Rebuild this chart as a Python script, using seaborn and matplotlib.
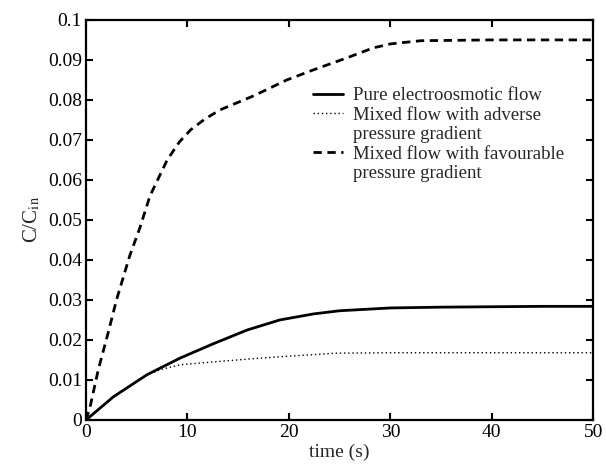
import matplotlib
matplotlib.use("Agg")
import matplotlib.pyplot as plt
import seaborn as sns
import numpy as np
from matplotlib.lines import Line2D
from matplotlib.ticker import FormatStrFormatter

# Curves
t_eo = [0, 2.7, 6, 9.3, 12.5, 15.9, 19.1, 22.4, 25, 30, 35, 40, 45, 50]
c_eo = [0, 0.0058, 0.0113, 0.0155, 0.019, 0.0225, 0.025, 0.0265, 0.0273,
        0.0280, 0.0282, 0.0283, 0.0284, 0.0284]

t_adv = [0, 2.7, 6, 7.5, 9.3, 12.5, 15.9, 19.1, 24.7, 30, 40, 50]
c_adv = [0, 0.0058, 0.0113, 0.0127, 0.0138, 0.0145, 0.0152, 0.0158,
         0.0167, 0.0168, 0.0168, 0.0168]

t_fav = [0, 0.4, 1.2, 2.2, 3.0, 4.3, 5.3, 6.3, 7.3, 8.0, 9.2, 10.3, 11.7,
         13.2, 16.5, 19.8, 22.4, 25.7, 28.3, 30, 33, 40, 50]
c_fav = [0, 0.0033, 0.0125, 0.022, 0.030, 0.041, 0.048, 0.056, 0.0613,
         0.065, 0.0695, 0.0725, 0.0752, 0.0775, 0.081, 0.085, 0.0875, 0.0905,
         0.093, 0.094, 0.0948, 0.095, 0.095]

x_ticks = [0, 10, 20, 30, 40, 50]
y_ticks = [0, 0.01, 0.02, 0.03, 0.04, 0.05, 0.06, 0.07, 0.08, 0.09, 0.1]

sns.set_style("ticks")
plt.rcParams['font.family'] = ['Liberation Serif', 'DejaVu Serif']
plt.rcParams['mathtext.fontset'] = 'stix'

fig = plt.figure(figsize=(6.06, 4.74), dpi=100)
ax = fig.add_axes([0.142, 0.114, 0.837, 0.844])

sns.lineplot(x=t_eo, y=c_eo, ax=ax, color='black', linewidth=2.0,
             linestyle='-', estimator=None, sort=False)
sns.lineplot(x=t_adv, y=c_adv, ax=ax, color='black', linewidth=1.0,
             linestyle=(0, (1, 2)), estimator=None, sort=False)
sns.lineplot(x=t_fav, y=c_fav, ax=ax, color='black', linewidth=2.0,
             linestyle=(0, (3, 2)), estimator=None, sort=False)

ax.set_xlim(0, 50)
ax.set_ylim(0, 0.1)
ax.set_xticks(x_ticks)
ax.set_yticks(y_ticks)
ax.yaxis.set_major_formatter(FormatStrFormatter('%g'))
ax.tick_params(direction='in', length=5, width=1.5, top=True, right=True,
               labelsize=14, colors='black', pad=3)
for s in ax.spines.values():
    s.set_linewidth(1.6)
    s.set_color('black')

ax.set_xlabel('time (s)', fontsize=14, labelpad=2)
ax.set_ylabel(r'C/C$_{\rm in}$', fontsize=15, labelpad=4)

blank = Line2D([], [], linestyle='none')
handles = [
    Line2D([], [], color='black', linewidth=2.0, linestyle='-'),
    Line2D([], [], color='black', linewidth=1.0, linestyle=(0, (1, 2))),
    blank,
    Line2D([], [], color='black', linewidth=2.0, linestyle=(0, (3, 2))),
    blank,
]
labels = ['Pure electroosmotic flow',
          'Mixed flow with adverse',
          'pressure gradient',
          'Mixed flow with favourable',
          'pressure gradient']
ax.legend(handles, labels, loc='upper left', bbox_to_anchor=(0.428, 0.855),
          frameon=False, fontsize=13.5, handlelength=1.6, handletextpad=0.55,
          labelspacing=0.12, borderpad=0)

fig.savefig('out.png', dpi=100)
